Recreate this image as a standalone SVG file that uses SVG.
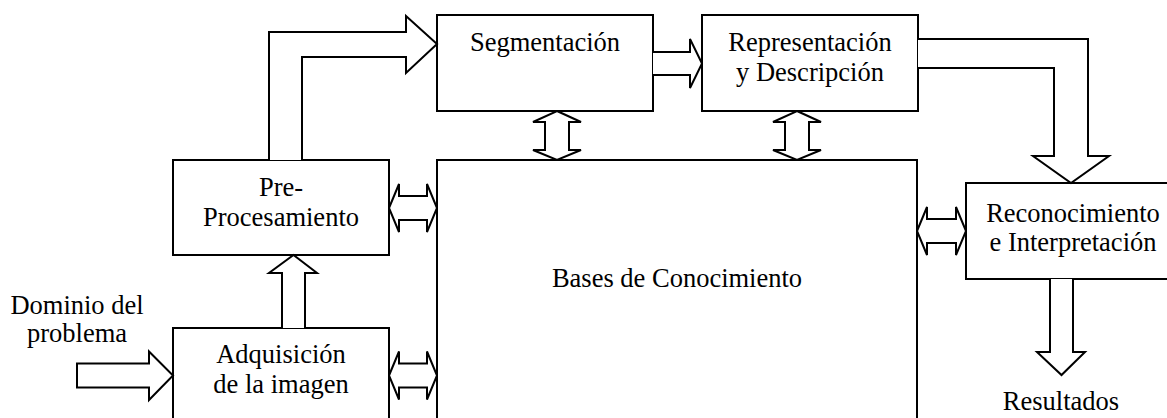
<svg xmlns="http://www.w3.org/2000/svg" width="1167" height="418" viewBox="0 0 1167 418">
  <style>
    .box { fill: #ffffff; stroke: #000000; stroke-width: 2; }
    .arrow { fill: #ffffff; stroke: #000000; stroke-width: 2; stroke-linejoin: miter; }
    .label { font-family: "Liberation Serif", "Times New Roman", serif; font-size: 26.5px; fill: #000000; text-anchor: middle; }
  </style>
  <rect width="1167" height="418" fill="#ffffff"/>

  <!-- processing blocks -->
  <g id="bases">
    <rect class="box" x="437" y="160" width="480" height="270"/>
    <text class="label" x="677" y="287">Bases de Conocimiento</text>
  </g>
  <g id="segmentacion">
    <rect class="box" x="437" y="15" width="216" height="96"/>
    <text class="label" x="545" y="51">Segmentación</text>
  </g>
  <g id="representacion">
    <rect class="box" x="702" y="15" width="216" height="96"/>
    <text class="label" x="810" y="51">Representación</text>
    <text class="label" x="810" y="81">y Descripción</text>
  </g>
  <g id="preprocesamiento">
    <rect class="box" x="173" y="160" width="216" height="95"/>
    <text class="label" x="281" y="196">Pre-</text>
    <text class="label" x="281" y="226">Procesamiento</text>
  </g>
  <g id="adquisicion">
    <rect class="box" x="173" y="328" width="216" height="110"/>
    <text class="label" x="281" y="363">Adquisición</text>
    <text class="label" x="281" y="393">de la imagen</text>
  </g>
  <g id="reconocimiento">
    <rect class="box" x="966" y="183" width="214" height="96"/>
    <text class="label" x="1073" y="222">Reconocimiento</text>
    <text class="label" x="1073" y="251">e Interpretación</text>
  </g>
  <g id="dominio">
    <text class="label" x="77" y="314">Dominio del</text>
    <text class="label" x="77" y="342">problema</text>
  </g>
  <g id="resultados">
    <text class="label" x="1061" y="410">Resultados</text>
  </g>

  <!-- block arrows between stages -->
  <g id="connectors">
    <!-- Pre-Procesamiento to Segmentacion -->
    <path class="arrow" d="M269,160 V32 H406 V16 L437,44 L406,73 V57 H302 V160"/>
    <!-- Segmentacion to Representacion -->
    <path class="arrow" d="M653,52 H690 V39 L702,63.5 L690,88 V75 H653"/>
    <!-- Representacion to Reconocimiento -->
    <path class="arrow" d="M918,39 H1088 V156 H1109 L1071,183 L1033,156 H1054 V68 H918"/>
    <!-- Reconocimiento to Resultados -->
    <path class="arrow" d="M1050,279 V352 H1037 L1061.5,375 L1085,352 H1073 V279"/>
    <!-- Adquisicion to Pre-Procesamiento -->
    <path class="arrow" d="M282,328 V273 H269 L293.5,255 L317,273 H305 V328"/>
    <!-- problem domain input -->
    <path class="arrow" d="M77,363.5 H149 V351.5 L173,375.5 L149,400 V387.5 H77 Z"/>

    <!-- two-way links with the knowledge base -->
    <path class="arrow" d="M389,208 L399,184 V196 H427 V184 L437,208 L427,232 V220 H399 V232 Z"/>
    <path class="arrow" d="M389,375.5 L399,351.5 V363.5 H427 V351.5 L437,375.5 L427,399.5 V387.5 H399 V399.5 Z"/>
    <path class="arrow" d="M917,231 L927,207 V219 H956 V207 L966,231 L956,255 V243 H927 V255 Z"/>
    <path class="arrow" d="M557,111 L581,122 H569 V150 H581 L557,160 L533,150 H545 V122 H533 Z"/>
    <path class="arrow" d="M797,111 L821,122 H809 V150 H821 L797,160 L773,150 H785 V122 H773 Z"/>
  </g>
</svg>
